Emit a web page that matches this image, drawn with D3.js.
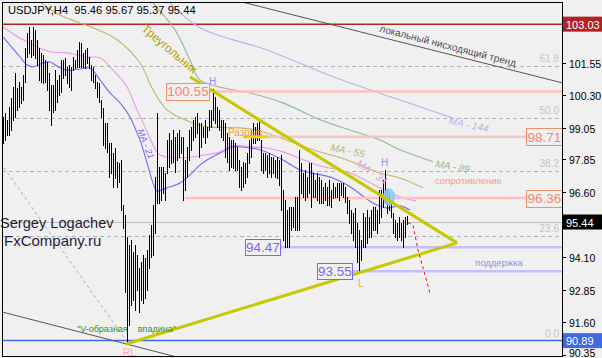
<!DOCTYPE html>
<html><head><meta charset="utf-8">
<script src="https://cdn.jsdelivr.net/npm/d3@7"></script>
<style>body{margin:0;background:#f0f0f0;}svg{display:block;font-family:"Liberation Sans",Arial,sans-serif;}</style>
</head><body><svg id="c" width="602" height="358"></svg>
<script>
// ---- data ----
const symbolTitle = "USDJPY,H4  95.46 95.67 95.37 95.44";
const highs = [99.47,99.63,99.36,99.86,100.20,100.62,101.16,100.58,100.81,100.62,101.08,102.12,102.69,102.92,102.43,102.92,102.81,102.43,102.12,101.93,
101.85,101.66,101.58,101.16,100.70,100.70,101.27,100.89,101.08,101.66,101.66,101.74,101.39,101.47,101.39,101.77,101.66,102.04,102.35,102.31,
101.93,102.04,102.12,101.77,101.47,101.39,101.08,100.81,100.78,100.12,99.82,99.24,99.24,98.47,98.47,98.09,98.28,97.75,97.71,97.82,
96.10,95.71,94.87,94.56,94.75,94.29,94.56,94.18,93.68,93.91,94.18,94.06,94.37,94.95,95.33,96.10,97.17,99.63,97.55,97.55,
97.55,97.32,98.59,98.86,98.59,98.97,98.70,98.86,98.97,98.70,98.70,97.82,98.32,98.97,99.09,99.36,99.47,99.63,99.24,99.24,
99.09,99.36,99.09,99.74,99.74,100.55,100.24,99.86,99.74,99.36,99.36,99.24,98.86,98.70,98.59,98.59,98.47,98.32,97.82,97.55,
97.75,97.71,98.09,98.59,98.97,99.24,99.09,99.24,99.36,98.59,98.09,98.09,98.01,98.09,97.94,97.94,97.82,97.94,97.82,98.01,
96.67,96.29,95.90,96.02,96.02,96.02,96.40,96.40,98.21,97.71,97.32,97.44,97.17,97.71,97.71,97.32,97.06,97.32,97.17,97.06,
96.79,96.94,96.79,97.06,96.67,96.94,96.79,96.94,96.94,96.94,96.94,96.79,96.40,96.29,95.90,95.79,95.98,95.41,95.14,94.75,
95.79,95.64,95.90,95.64,95.90,96.02,96.02,95.90,96.67,96.67,97.06,97.44,96.67,96.56,96.29,95.79,95.52,95.41,95.64,95.41,
95.52,95.64,95.67];
const lows = [98.47,98.59,98.78,98.78,98.97,99.36,99.47,99.74,99.86,100.01,100.12,100.81,101.77,101.93,101.77,101.85,101.74,101.47,100.89,100.81,
100.78,100.81,100.51,99.74,99.17,99.66,99.74,100.05,100.32,100.43,100.97,101.08,100.78,100.62,100.51,101.27,101.35,101.39,101.39,101.39,
101.39,101.35,101.54,101.35,100.89,100.81,100.58,100.24,100.05,99.47,98.40,98.28,98.13,97.17,97.32,96.79,97.13,96.79,96.98,95.90,
95.21,92.76,90.89,91.49,92.26,92.45,92.07,92.84,91.99,92.45,92.34,92.53,92.84,93.68,94.10,94.18,95.02,96.17,96.17,96.29,
96.56,96.29,97.32,97.55,97.71,97.75,97.36,97.82,97.94,98.09,96.29,96.67,97.17,97.82,98.21,98.59,98.70,98.86,97.94,98.32,
98.70,98.47,98.70,98.97,99.09,99.36,99.24,99.09,98.97,98.70,98.59,97.94,97.75,97.44,97.55,97.52,97.44,97.44,96.79,96.67,
96.79,96.94,97.17,97.71,97.94,98.47,98.47,98.59,98.59,97.44,97.32,97.44,97.17,97.32,97.17,97.32,97.17,97.13,96.86,95.90,
94.75,94.49,94.49,94.49,95.14,95.25,95.14,95.14,95.14,96.56,96.40,96.29,96.40,96.56,96.02,96.40,96.40,96.29,96.17,96.17,
96.17,96.29,96.10,96.10,96.02,96.37,96.40,96.40,96.29,96.48,96.40,96.21,95.79,95.41,95.02,94.75,94.49,93.91,93.56,93.99,
94.49,94.49,94.64,94.87,94.87,95.14,95.14,95.02,95.41,95.64,96.02,96.17,95.79,95.90,95.64,95.02,94.87,94.75,94.87,94.75,
94.49,94.87,95.37];
// moving averages: [bar index, price]
const ma21 = [[0,102.54],[8.5,101.77],[12,101.47],[15,101.39],[20,101.54],[23.5,101.58],[28.5,101.35],[32,101.27],[38.5,101.31],[43.5,101.35],[48.5,100.89],[53.5,100.39],[58.5,100.01],[63.5,99.47],[67,98.86],[68.5,98.59],[72,97.71],[75,96.94],[77,96.63],[82,96.75],[88.5,96.94],[93.5,97.25],[98.5,97.63],[102,97.82],[108.5,98.09],[115,98.32],[123.5,98.28],[128.5,98.21],[140,97.82],[148.5,97.44],[165,97.13],[173.5,96.79],[185,96.17],[192,95.98],[198.5,96.06],[203.5,95.90]];
const ma34 = [[0,102.92],[10,102.43],[23.5,101.97],[32,101.93],[42,101.77],[48.5,101.74],[55,101.27],[62,100.62],[67,99.74],[71,99.09],[75,98.40],[78.5,98.01],[88.5,97.90],[98.5,97.98],[108.5,98.13],[115,98.36],[125,98.32],[132,98.28],[140,98.13],[157,97.63],[173.5,97.32],[188.5,96.75],[198.5,96.40],[206.5,96.25]];
const ma55 = [[18.5,103.88],[28.5,103.38],[45,102.89],[57,102.43],[68.5,101.54],[75,100.51],[82,99.74],[93.5,99.28],[102,99.09],[118.5,99.05],[127,98.97],[138.5,98.67],[155,98.21],[172,97.82],[188.5,97.32],[198.5,97.13],[210,96.75]];
const ma89 = [[73.5,103.96],[86,102.81],[93.5,101.66],[98.5,100.89],[115,100.51],[123.5,100.39],[140,100.01],[158.5,99.36],[173.5,98.97],[188.5,98.59],[198.5,98.21],[215,97.75]];
const ma144 = [[82,103.96],[98.5,102.89],[132,102.04],[165,101.01],[198.5,100.12],[225,99.43]];
const maNames = ["MA - 21","MA - 34","MA - 55","MA - 89","MA - 144"];
// price axis
const tickValues = [102.80,101.55,100.30,99.05,97.85,96.60,95.35,94.10,92.85,91.60,90.35];
const highLine = 103.03, bidPrice = 95.44, lowLine = 90.89;
// fibonacci
const fibLevels = [0.0, 23.6, 38.2, 50.0, 61.8];
const fibFrom = 90.89, fibTo = 107.94;
// resistance / support
const resistance = [{price:100.45,text:"100.55",start:103},{price:98.71,text:"98.71",start:131},{price:96.36,text:"96.36",start:91}];
const support = [{price:94.47,text:"94.47",start:138.5},{price:93.55,text:"93.55",start:174.5}];
// trend lines [bar index, price]
const triUpper = [[93.5,101.01],[227,94.64]];
const triLower = [[61.5,90.76],[227,94.64]];
const downTrend = [[119.5,103.88],[279.5,100.78]];
const lowerChannel = [[-0.5,91.99],[90,90.20]];
const dottedLine = [[0.5,97.52],[62,90.84]];
const forecast = [[202.5,95.41],[205,95.33],[207.5,94.37],[211,93.41],[213.5,92.72]];
const gapMark = [[120,98.71],[132.5,98.71]];

// ---- drawing ----
const svg = d3.select("#c");
const W=602,H=358, L=2, R=562, T=2, B=356;
const x = d3.scaleLinear().domain([-0.5,279.5]).range([L,R]);
const y = d3.scaleLinear().domain([90.30,103.88]).range([B,T]);
svg.append("rect").attr("width",W).attr("height",H).attr("fill","#f0f0f0");
svg.append("defs").append("clipPath").attr("id","pc").append("rect").attr("x",L).attr("y",T).attr("width",R-L).attr("height",B-T);
const g = svg.append("g").attr("clip-path","url(#pc)");
const line = d3.line().x(d=>x(d[0])).y(d=>y(d[1]));
const smooth = d3.line().x(d=>x(d[0])).y(d=>y(d[1])).curve(d3.curveCatmullRom);

// fibonacci dashed
fibLevels.forEach(f=>{
  const p = fibFrom + (fibTo-fibFrom)*f/100;
  if (f>0) g.append("line").attr("x1",L).attr("x2",R).attr("y1",Math.round(y(p))+0.5).attr("y2",Math.round(y(p))+0.5)
    .attr("stroke","#b4b4b4").attr("stroke-dasharray","4,3");
  svg.append("text").attr("x",R-3).attr("y",y(p)-4).attr("text-anchor","end").attr("font-size",10).attr("fill","#c4c4c4").text(f.toFixed(1));
});
// texts behind
svg.append("text").attr("x",0).attr("y",228).attr("font-size",14.6).attr("fill","#1e1e3a").text("Sergey Logachev");
svg.append("text").attr("x",4).attr("y",246).attr("font-size",15).attr("fill","#1e1e3a").text("FxCompany.ru");

// bid line
g.append("line").attr("x1",L).attr("x2",R).attr("y1",Math.round(y(bidPrice))+0.5).attr("y2",Math.round(y(bidPrice))+0.5).attr("stroke","#c0c0c0");
// high / low lines
g.append("line").attr("x1",L).attr("x2",R).attr("y1",y(highLine)).attr("y2",y(highLine)).attr("stroke","#b22222").attr("stroke-width",1.5);
g.append("line").attr("x1",L).attr("x2",R).attr("y1",y(lowLine)).attr("y2",y(lowLine)).attr("stroke","#4169e1").attr("stroke-width",1.5);

// channel lines
g.append("path").attr("d",line(downTrend)).attr("stroke","#555").attr("fill","none");
g.append("path").attr("d",line(lowerChannel)).attr("stroke","#555").attr("fill","none");
g.append("path").attr("d",line(dottedLine)).attr("stroke","#aaa").attr("stroke-dasharray","3,3").attr("fill","none");

// moving averages
const maData=[ma21,ma34,ma55,ma89,ma144];
const maColors=["#7b68ee","#e89ae8","#bdb76b","#8fbc8f","#b8b4e4"];
maData.forEach((m,k)=>g.append("path").attr("d",smooth(m)).attr("stroke",maColors[k]).attr("fill","none").attr("stroke-width",1.1));

// resistance lines
resistance.forEach((r,k)=>{
  const yy=y(r.price);
  const bw=36, bh=17;
  let x1 = x(r.start), x2 = k===0 ? R : R-bw;
  g.append("line").attr("x1",x1).attr("x2",x2).attr("y1",yy).attr("y2",yy).attr("stroke","#ffc0c0").attr("stroke-width",2.5);
  const bx = k===0 ? x1-43 : R-bw;
  svg.append("rect").attr("x",bx+0.5).attr("y",Math.round(yy-bh/2)+0.5).attr("width",k===0?43:bw).attr("height",bh).attr("fill","#f0f0f0").attr("stroke","#f09070");
  svg.append("text").attr("x",bx+(k===0?21.5:bw/2)+0.5).attr("y",yy+5).attr("text-anchor","middle").attr("font-size",13.5).attr("fill","#f08a70").text(r.text);
});
// support lines
support.forEach(s=>{
  const yy=y(s.price);
  g.append("line").attr("x1",x(s.start)).attr("x2",R).attr("y1",yy).attr("y2",yy).attr("stroke","#c0c0ff").attr("stroke-width",2.5);
  const bx=x(s.start)-35;
  svg.append("rect").attr("x",bx+0.5).attr("y",Math.round(yy-8)+0.5).attr("width",35).attr("height",16).attr("fill","#f0f0f0").attr("stroke","#7b68ee");
  svg.append("text").attr("x",bx+18).attr("y",yy+5).attr("text-anchor","middle").attr("font-size",13.5).attr("fill","#7b68ee").text(s.text);
});

// bars
g.append("g").selectAll("line").data(highs).join("line")
  .attr("x1",(d,i)=>x(i)+0.5).attr("x2",(d,i)=>x(i)+0.5)
  .attr("y1",d=>y(d)).attr("y2",(d,i)=>y(lows[i])+1)
  .attr("stroke","#000").attr("shape-rendering","crispEdges");

// gap mark
g.append("path").attr("d",line(gapMark)).attr("stroke","#ffcc00").attr("stroke-width",3);
svg.append("text").attr("x",228).attr("y",136).attr("font-size",10).attr("fill","#f0a040").text("Разрыв");

// light blue blob
g.append("ellipse").attr("cx",389).attr("cy",197).attr("rx",6).attr("ry",9).attr("fill","#87cefa").attr("opacity",0.85);

// triangle
g.append("path").attr("d",line(triUpper)).attr("stroke","#c8c800").attr("stroke-width",3).attr("fill","none");
g.append("path").attr("d",line(triLower)).attr("stroke","#c8c800").attr("stroke-width",3).attr("fill","none");
// forecast
g.append("path").attr("d",line(forecast)).attr("stroke","#ff0000").attr("stroke-dasharray","3,3").attr("fill","none");

// labels
function rtext(t,cx,cy,ang,size,col,italic){
  svg.append("text").attr("transform",`translate(${cx},${cy}) rotate(${ang})`).attr("text-anchor","middle")
   .attr("font-size",size).attr("fill",col).attr("font-style",italic?"italic":"normal").text(t);
}
rtext("Треугольник",167,52,40,12,"#b0a000",false);
rtext("локальный нисходящий тренд",447,49,14.5,10,"#505050",false);
rtext(maNames[0],143,145,68,9,"#7b68ee",true);
rtext(maNames[1],370,175,35,10,"#e89ae8",true);
rtext(maNames[2],347,154,12,10,"#bdb76b",true);
rtext(maNames[3],452,170,10,10,"#8fbc8f",true);
rtext(maNames[4],468,128,12,10,"#b8b4e4",true);
svg.append("text").attr("x",435).attr("y",184).attr("font-size",9.5).attr("fill","#f4a080").text("сопротивление");
svg.append("text").attr("x",475).attr("y",266).attr("font-size",9.5).attr("fill","#8f8fdf").text("поддержка");
svg.append("text").attr("x",77).attr("y",332).attr("font-size",9).attr("fill","#229922").attr("xml:space","preserve").text("\"V-образная    впадина\"");
svg.append("text").attr("x",209).attr("y",85).attr("font-size",10).attr("fill","#9090ff").text("H");
svg.append("text").attr("x",381).attr("y",166).attr("font-size",10).attr("fill","#9090ff").text("H");
svg.append("text").attr("x",358).attr("y",287).attr("font-size",10).attr("fill","#f0a080").text("L");
svg.append("text").attr("x",123).attr("y",356).attr("font-size",10).attr("fill","#ffaaaa").text("RL");

// frame
svg.append("rect").attr("x",L+0.5).attr("y",T+0.5).attr("width",R-L).attr("height",B-T).attr("fill","none").attr("stroke","#000");
svg.append("text").attr("x",8).attr("y",14).attr("font-size",11.2).attr("fill","#000").attr("xml:space","preserve").text(symbolTitle);

// price axis (labels hidden by the price boxes are skipped)
const boxes=[[highLine,"#b22222"],[bidPrice,"#000"],[lowLine,"#4169e1"]];
tickValues.forEach(v=>{
  const yy=Math.round(y(v))+0.5;
  svg.append("line").attr("x1",R).attr("x2",R+4).attr("y1",yy).attr("y2",yy).attr("stroke","#000");
  if (boxes.some(b=>Math.abs(y(b[0])-yy)<11)) return;
  svg.append("text").attr("x",R+7).attr("y",Math.min(yy+4,357)).attr("font-size",10.5).attr("fill","#000").text(v.toFixed(2));
});
boxes.forEach(([v,c])=>{
  const yy=y(v);
  svg.append("rect").attr("x",R+1).attr("y",yy-7.5).attr("width",W-R-1).attr("height",15).attr("fill",c);
  svg.append("text").attr("x",R+4).attr("y",yy+4.5).attr("font-size",11).attr("fill","#fff").text(v.toFixed(2));
});
</script></body></html>
